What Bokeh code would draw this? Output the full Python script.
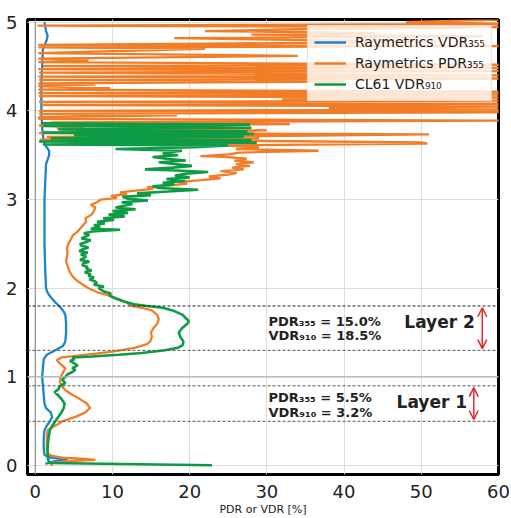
from bokeh.plotting import figure
from bokeh.models import Span, Label, Arrow, OpenHead, Legend, LegendItem, Range1d, FixedTicker
from bokeh.embed import file_html
from bokeh.resources import INLINE

# ---------------- data (altitude in km, ratio in %) ----------------
vdr355_alt = [0.02, 0.05, 0.07, 0.09, 0.12, 0.2, 0.3, 0.4, 0.45, 0.5, 0.55, 0.6, 0.65, 0.7, 0.8, 0.9,
              1.0, 1.1, 1.2, 1.25, 1.3, 1.35, 1.4, 1.5, 1.6, 1.7, 1.75, 1.8, 1.85, 1.9, 1.95, 2.0,
              2.2, 2.5, 2.8, 3.0, 3.2, 3.4, 3.5, 3.55, 3.6, 3.65, 3.8, 4.0, 4.3, 4.5, 4.7, 4.8,
              4.85, 4.9, 5.0]
vdr355 = [1.3, 2.5, 4.2, 2.0, 1.2, 1.1, 1.1, 1.2, 1.5, 1.9, 2.2, 2.0, 1.4, 1.2, 1.1, 1.0,
          0.9, 1.0, 1.1, 1.5, 2.6, 3.6, 3.9, 4.0, 4.0, 3.9, 3.6, 3.1, 2.5, 2.0, 1.6, 1.4,
          1.3, 1.2, 1.2, 1.2, 1.3, 1.4, 1.8, 1.8, 1.4, 1.1, 0.9, 0.8, 0.8, 0.9, 1.0, 1.5,
          1.6, 1.4, 1.2]

pdr355_alt = [0.00, 0.03, 0.05, 0.065, 0.075, 0.09, 0.11, 0.13, 0.20, 0.30, 0.40, 0.44, 0.47, 0.50,
              0.55, 0.60, 0.65, 0.70, 0.75, 0.80, 0.85, 0.90, 0.95, 1.00, 1.05, 1.10, 1.15, 1.19,
              1.22, 1.24, 1.26, 1.28, 1.30, 1.33, 1.37, 1.40, 1.45, 1.50, 1.55, 1.60, 1.65, 1.70,
              1.75, 1.78, 1.80, 1.84, 1.88, 1.92, 1.95, 2.00, 2.05, 2.10, 2.15, 2.20, 2.25, 2.30,
              2.35, 2.40, 2.45, 2.50, 2.55, 2.60, 2.63, 2.67, 2.71, 2.75, 2.79, 2.83, 2.87, 2.91,
              2.94, 2.97, 3.00, 3.02, 3.04, 3.06, 3.08, 3.10, 3.12, 3.14, 3.16, 3.18, 3.20, 3.22,
              3.24, 3.26, 3.28, 3.30, 3.32, 3.34, 3.36, 3.38, 3.40, 3.42, 3.44, 3.46, 3.48, 3.49,
              3.51, 3.53, 3.55, 3.57, 3.59, 3.61, 3.63, 3.645, 3.66, 3.675, 3.69, 3.705, 3.72,
              3.735, 3.75, 3.765, 3.78, 3.80, 3.82, 3.835, 3.85, 3.87, 3.89, 3.91, 3.93, 3.95,
              3.965, 3.985, 4.00, 4.015, 4.03, 4.05, 4.065, 4.08, 4.10, 4.115, 4.13, 4.15, 4.165,
              4.185, 4.20, 4.215, 4.24, 4.255, 4.28, 4.295, 4.31, 4.33, 4.35, 4.365, 4.385, 4.40,
              4.43, 4.45, 4.47, 4.485, 4.505, 4.52, 4.55, 4.565, 4.59, 4.62, 4.65, 4.70, 4.715,
              4.73, 4.745, 4.76, 4.78, 4.80, 4.82, 4.84, 4.86, 4.88, 4.90, 4.92, 4.945, 4.96,
              4.98, 5.00, 5.03]
pdr355 = [2.2, 2.0, 4.5, 7.8, 6.5, 3.5, 2.2, 1.7, 1.5, 1.5, 1.6, 2.4, 3.0, 3.5,
          5.2, 6.5, 7.1, 6.7, 5.8, 4.8, 3.9, 3.4, 3.2, 3.3, 3.6, 3.9, 3.2, 2.8,
          3.4, 5.5, 7.5, 9.5, 11.0, 13.0, 14.5, 14.9, 15.1, 15.0, 15.3, 15.8, 16.0, 15.8,
          15.1, 13.8, 12.5, 11.8, 10.8, 9.5, 8.2, 6.9, 6.0, 5.2, 4.7, 4.4, 4.2, 4.0,
          4.1, 4.2, 4.1, 4.3, 4.6, 4.9, 5.4, 5.8, 6.2, 6.6, 6.5, 7.3, 7.6, 7.8,
          7.2, 8.0, 8.5, 10.6, 9.8, 11.9, 11.0, 13.0, 15.3, 14.5, 17.5, 19.7, 18.5, 21.5,
          24.0, 22.5, 25.0, 26.1, 24.0, 27.0, 25.5, 27.8, 26.0, 28.3, 25.8, 27.4, 24.5, 21.4,
          25.0, 26.5, 36.7, 26.0, 29.0, 24.0, 50.8, 50.0, 30.0, 0.6, 29.0, 1.5, 36.0,
          51.0, 0.5, 19.0, 30.0, 2.8, 6.3, 0.5, 33.0, 2.0, 62.0, 0.5, 0.5, 18.4,
          0.5, 62.0, 0.5, 62.0, 38.0, 62.0, 1.0, 62.0, 0.5, 62.0, 32.0, 62.0, 0.5,
          62.0, 0.4, 62.0, 0.4, 9.7, 0.4, 7.8, 0.4, 40.0, 0.5, 62.0, 0.4, 62.0,
          0.5, 62.0, 0.4, 62.0, 1.0, 62.0, 0.4, 6.9, 0.4, 34.0, 0.4, 22.0, 0.4,
          62.0, 0.4, 26.0, 52.0, 33.0, 18.0, 58.0, 28.0, 44.0, 22.0, 34.0, 62.0, 0.3,
          62.0, 48.0, 60.0]

vdr910_alt = [0.005, 0.03, 0.06, 0.10, 0.20, 0.30, 0.40, 0.45, 0.50, 0.55, 0.60, 0.65, 0.70, 0.75,
              0.80, 0.83, 0.86, 0.90, 0.93, 0.97, 1.00, 1.03, 1.06, 1.08, 1.10, 1.13, 1.16, 1.18,
              1.20, 1.22, 1.23, 1.25, 1.27, 1.30, 1.33, 1.36, 1.40, 1.45, 1.50, 1.55, 1.60, 1.63,
              1.67, 1.70, 1.75, 1.78, 1.80, 1.82, 1.84, 1.86, 1.88, 1.90, 1.92, 1.94, 1.96, 1.98,
              2.00, 2.02, 2.04, 2.06, 2.08, 2.10, 2.12, 2.14, 2.16, 2.18, 2.20, 2.22, 2.24, 2.26,
              2.28, 2.30, 2.32, 2.34, 2.36, 2.38, 2.40, 2.42, 2.44, 2.46, 2.48, 2.50, 2.52, 2.54,
              2.56, 2.58, 2.60, 2.62, 2.64, 2.66, 2.67, 2.69, 2.71, 2.73, 2.75, 2.77, 2.79, 2.81,
              2.83, 2.85, 2.87, 2.89, 2.91, 2.93, 2.95, 2.97, 2.99, 3.01, 3.03, 3.05, 3.07, 3.09,
              3.11, 3.13, 3.15, 3.17, 3.19, 3.21, 3.23, 3.25, 3.27, 3.29, 3.31, 3.33, 3.34, 3.36,
              3.38, 3.40, 3.42, 3.44, 3.46, 3.48, 3.50, 3.52, 3.53, 3.55, 3.57, 3.59, 3.61, 3.62,
              3.64, 3.655, 3.67, 3.69, 3.71, 3.725, 3.74, 3.755, 3.77, 3.79, 3.81, 3.83, 3.845,
              3.86]
vdr910 = [22.9, 1.9, 1.7, 1.6, 1.6, 1.7, 1.9, 2.2, 2.6, 3.0, 3.4, 3.7, 3.8, 3.4,
          2.9, 2.5, 3.0, 3.2, 3.9, 3.5, 3.9, 4.2, 4.9, 5.2, 4.8, 5.5, 4.9, 4.5,
          5.1, 4.8, 7.4, 10.8, 13.8, 16.8, 18.5, 19.1, 19.2, 18.8, 18.6, 19.0, 19.7, 19.9,
          19.4, 19.1, 17.8, 16.5, 14.5, 12.8, 12.0, 11.2, 10.5, 10.0, 9.6, 9.8, 9.0, 8.6,
          8.2, 8.9, 7.6, 8.0, 7.7, 7.0, 7.6, 6.9, 7.2, 6.4, 7.3, 6.6, 6.8, 6.1,
          6.2, 7.0, 5.8, 6.3, 6.6, 5.9, 6.8, 5.7, 6.2, 6.9, 6.0, 5.8, 6.6, 7.2,
          6.0, 6.4, 7.0, 6.3, 7.4, 11.0, 7.2, 8.4, 7.6, 9.0, 8.0, 10.2, 8.8, 11.6,
          9.5, 12.0, 10.0, 13.0, 10.4, 11.5, 12.6, 11.2, 14.6, 12.0, 11.3, 15.0, 13.2, 17.2,
          21.1, 16.0, 15.2, 18.0, 16.5, 19.4, 17.0, 20.0, 18.1, 19.5, 22.4, 17.5, 14.2, 17.8,
          20.3, 18.0, 16.0, 19.5, 17.0, 15.2, 18.5, 16.5, 17.2, 19.0, 10.4, 20.7, 25.0, 1.0,
          28.7, 0.5, 28.0, 2.0, 27.0, 5.0, 28.3, 1.0, 27.5, 3.0, 28.0, 1.0, 27.8,
          0.8]

series_labels = ["Raymetrics VDR\u2083\u2085\u2085", "Raymetrics PDR\u2083\u2085\u2085", "CL61 VDR\u2089\u2081\u2080"]
series_colors = ["#1c86c8", "#f37d26", "#0d9c45"]

x_ticks = [0, 10, 20, 30, 40, 50, 60]
y_ticks = [0, 1, 2, 3, 4, 5]

layer_bottoms = [0.5, 1.3]
layer_tops = [0.9, 1.8]
layer_pdr_text = ["PDR\u2083\u2085\u2085 = 5.5%", "PDR\u2083\u2085\u2085 = 15.0%"]
layer_vdr_text = ["VDR\u2089\u2081\u2080 = 3.2%", "VDR\u2089\u2081\u2080 = 18.5%"]
layer_names = ["Layer 1", "Layer 2"]

FONT = "DejaVu Sans"

p = figure(width=511, height=518, x_range=Range1d(-1, 60), y_range=Range1d(-0.1, 5.03),
           output_backend="svg", toolbar_location=None,
           min_border_left=27, min_border_top=19, min_border_right=13, min_border_bottom=0)

p.outline_line_color = "black"
p.outline_line_width = 3
p.background_fill_color = "white"
p.border_fill_color = "white"

p.xaxis.ticker = FixedTicker(ticks=x_ticks)
p.yaxis.ticker = FixedTicker(ticks=y_ticks)
for ax in (p.xaxis[0], p.yaxis[0]):
    ax.axis_line_color = None
    ax.major_tick_line_color = None
    ax.minor_tick_line_color = None
    ax.major_label_text_font = FONT
    ax.major_label_text_font_size = "18px"
    ax.major_label_text_color = "#222222"
    ax.major_label_standoff = 4
p.xaxis.axis_label = "PDR or VDR [%]"
p.xaxis.axis_label_text_font = FONT
p.xaxis.axis_label_text_font_size = "11px"
p.xaxis.axis_label_text_font_style = "normal"
p.xaxis.axis_label_text_color = "#222222"
p.xaxis.axis_label_standoff = 2

p.grid.grid_line_color = "#dddddd"
p.grid.grid_line_width = 1

p.add_layout(Span(location=0, dimension="height", line_color="#808080", line_width=1))
p.add_layout(Span(location=1, dimension="width", line_color="#b0b0b0", line_width=1.2))

# layer boundaries
for i, (b, t) in enumerate(zip(layer_bottoms, layer_tops)):
    p.add_layout(Span(location=t, dimension="width", line_color="#222222" if i == 1 else "#555555",
                      line_width=1, line_dash="3 2"))
    p.add_layout(Span(location=b, dimension="width", line_color="#555555", line_width=1, line_dash="3 2"))

r1 = p.line(vdr355, vdr355_alt, line_color=series_colors[0], line_width=2.3)
r2 = p.line(pdr355, pdr355_alt, line_color=series_colors[1], line_width=2.3)
r3 = p.line(vdr910, vdr910_alt, line_color=series_colors[2], line_width=2.6)

# annotations for the layers
arrow_x = [56.8, 57.9]
pdr_y = [0.77, 1.63]
vdr_y = [0.60, 1.47]
name_x = [46.8, 47.8]
name_y = [0.72, 1.62]
for i in range(2):
    p.add_layout(Label(x=30.2, y=pdr_y[i], text=layer_pdr_text[i], text_font=FONT, text_font_size="13px",
                       text_font_style="bold", text_color="#222222", text_baseline="middle"))
    p.add_layout(Label(x=30.2, y=vdr_y[i], text=layer_vdr_text[i], text_font=FONT, text_font_size="13px",
                       text_font_style="bold", text_color="#222222", text_baseline="middle"))
    p.add_layout(Label(x=name_x[i], y=name_y[i], text=layer_names[i], text_font=FONT, text_font_size="17px",
                       text_font_style="bold", text_color="#222222", text_baseline="middle"))
    p.add_layout(Arrow(x_start=arrow_x[i], y_start=layer_bottoms[i] + 0.02, x_end=arrow_x[i],
                       y_end=layer_tops[i] - 0.02, line_color="#e8262e", line_width=1.5,
                       start=OpenHead(size=9, line_color="#e8262e", line_width=1.5),
                       end=OpenHead(size=9, line_color="#e8262e", line_width=1.5)))

legend = Legend(items=[LegendItem(label=series_labels[0], renderers=[r1]),
                       LegendItem(label=series_labels[1], renderers=[r2]),
                       LegendItem(label=series_labels[2], renderers=[r3])],
                location="top_right")
legend.label_text_font = FONT
legend.label_text_font_size = "14px"
legend.label_text_color = "#222222"
legend.glyph_width = 32
legend.glyph_height = 20
legend.label_height = 20
legend.spacing = 1
legend.padding = 6
legend.margin = 6
legend.label_standoff = 9
legend.border_line_color = "#cccccc"
legend.border_line_width = 1
legend.background_fill_color = "white"
legend.background_fill_alpha = 0.8
p.add_layout(legend)

open("out.html", "w").write(file_html(p, INLINE))
